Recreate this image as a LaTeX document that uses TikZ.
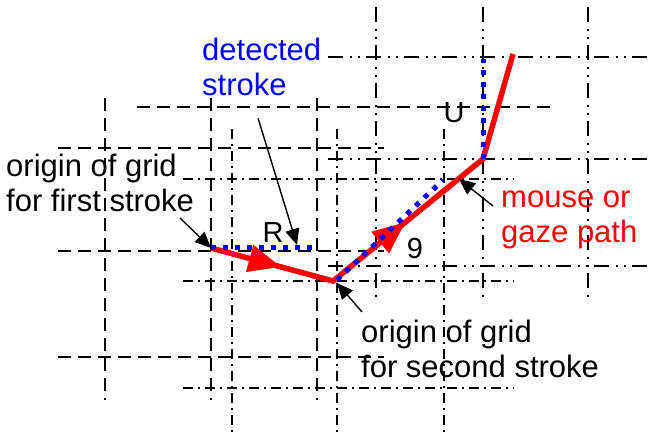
\documentclass[tikz,border=0pt]{standalone}
\usepackage{fontspec}
\setmainfont{Liberation Sans}
\usetikzlibrary{arrows.meta,decorations.markings}
\begin{document}
\begin{tikzpicture}[x=1pt,y=-1pt,
  gridA/.style={line width=1.7pt, dash pattern=on 13pt off 7pt},
  gridB/.style={line width=1.7pt, dash pattern=on 10pt off 5pt on 2pt off 5pt},
  gridC/.style={line width=1.7pt, dash pattern=on 15pt off 7pt on 2pt off 6pt on 2pt off 6pt},
  redpath/.style={red, line width=5.5pt, line join=miter},
  redtip/.style={decoration={markings, mark=at position #1 with {\arrow[red]{Triangle[length=32pt,width=28pt]}}}, decorate},
  bluestroke/.style={blue, line width=5pt, dash pattern=on 5pt off 7pt},
  pointer/.style={line width=1.4pt, -{Triangle[length=16pt,width=14pt]}},
  lbl/.style={font=\fontsize{31}{35}\selectfont, inner sep=0pt, anchor=north west, align=left},
  letter/.style={font=\fontsize{29}{32}\selectfont, inner sep=0pt, anchor=base},
]
\useasboundingbox (0,0) rectangle (660,433);
% grid for first stroke (dashed)
\foreach \x in {105,211,317} \draw[gridA] (\x,98) -- (\x,400);
\foreach \y in {148,251,357} \draw[gridA] (58,\y) -- (384,\y);
\draw[gridA] (137,107) -- (557,107);
% grid for second stroke (dash dot)
\foreach \x in {232,337,444} \draw[gridB] (\x,129) -- (\x,432);
\foreach \y in {179,281,388} \draw[gridB] (183,\y) -- (514,\y);
% grid for third stroke (dash dot dot)
\foreach \x in {376,483,588} \draw[gridC] (\x,7) -- (\x,303);
\foreach \y in {57,159,266} \draw[gridC] (328,\y) -- (652,\y);
% mouse / gaze path
\coordinate (o1) at (211,248);
\coordinate (o2) at (333,281);
\coordinate (o3) at (483,159);
\coordinate (pend) at (513,54);
\draw[redpath] (o1) -- (o2) -- (o3) -- (pend);
\path[redtip=0.57] (o1) -- (o2);
\path[redtip=0.48] (o2) -- (o3);
% detected strokes
\coordinate (g2) at (337,280);
\coordinate (b1e) at (313,247);
\coordinate (b2e) at (443,180);
\coordinate (b3e) at (483,59);
\draw[bluestroke] (211,247) -- (b1e);
\draw[bluestroke] (g2) -- (b2e);
\draw[bluestroke] (o3) -- (b3e);
% letters
\node[letter] (R) at (273,242) {R};
\node[letter] (nine) at (415,258) {9};
\node[letter] (U) at (454,122) {U};
% labels
\node[lbl, blue] (det) at (202,36) {\strut detected\\stroke};
\node[lbl] (org1) at (6,152) {\strut origin of grid\\for first stroke};
\node[lbl, red] (mouse) at (501,183) {\strut mouse or\\gaze path};
\node[lbl] (org2) at (361,318) {\strut origin of grid\\for second stroke};
% pointers
\coordinate (t1) at (258,118);
\coordinate (h1) at (297,245);
\coordinate (t2) at (180,218);
\coordinate (t3) at (493,206);
\coordinate (h3) at (459,179);
\coordinate (t4) at (362,312);
\coordinate (h4) at (337,283);
\draw[pointer] (t1) -- (h1);
\draw[pointer] (t2) -- (o1);
\draw[pointer] (t3) -- (h3);
\draw[pointer] (t4) -- (h4);
\end{tikzpicture}
\end{document}
